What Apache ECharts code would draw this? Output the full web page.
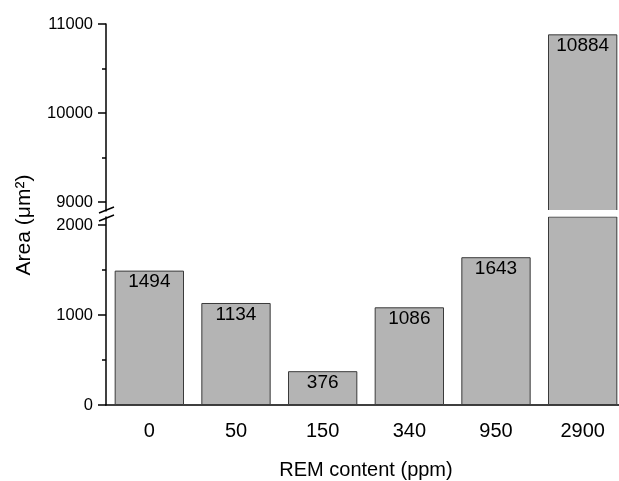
<!DOCTYPE html>
<html>
<head>
<meta charset="utf-8">
<script src="https://cdn.jsdelivr.net/npm/echarts@6/dist/echarts.min.js"></script>
<style>
  html, body { margin: 0; padding: 0; background: #fff; }
  #chart { width: 619px; height: 481px; }
</style>
</head>
<body>
<div id="chart"></div>
<script>
// REM content levels and measured areas
const categories = ['0', '50', '150', '340', '950', '2900'];
const areas = [1494, 1134, 376, 1086, 1643, 10884];

// Broken y axis: lower and upper segments
const lowerRange = [0, 2090];
const upperRange = [8900, 11000];
const lowerTicks = [0, 1000, 2000];
const lowerMinorTicks = [500, 1500];
const upperTicks = [9000, 10000, 11000];
const upperMinorTicks = [9500, 10500];

const FONT = '"Liberation Sans", Arial, Helvetica, sans-serif';
const AXIS_LEFT = 106;
const PLOT_W = 520;
const UPPER_TOP = 24, UPPER_H = 187;
const LOWER_TOP = 217, LOWER_BOTTOM = 76;

const chart = echarts.init(document.getElementById('chart'));

function yAxisPair(gridIndex, range, ticks, minorTicks) {
  return [
    {
      gridIndex, type: 'value', position: 'left', min: range[0], max: range[1],
      axisLine: { show: true, lineStyle: { color: '#000', width: 1.5 } },
      axisTick: { show: true, customValues: ticks, length: 8, lineStyle: { color: '#000', width: 1.5 } },
      axisLabel: {
        customValues: ticks, color: '#000', fontSize: 16.5, fontFamily: FONT, margin: 13,
        formatter: v => String(v)
      },
      splitLine: { show: false }
    },
    {
      gridIndex, type: 'value', position: 'left', offset: 0, min: range[0], max: range[1],
      axisLine: { show: false },
      axisTick: { show: true, customValues: minorTicks, length: 4, lineStyle: { color: '#000', width: 1.5 } },
      axisLabel: { show: false },
      splitLine: { show: false }
    }
  ];
}

const barStyle = { color: '#b4b4b4', borderColor: '#3a3a3a', borderWidth: 1 };
const labelBase = {
  show: true, position: 'insideTop', distance: 2,
  color: '#000', fontSize: 19, fontFamily: FONT
};

chart.setOption({
  animation: false,
  backgroundColor: '#fff',
  grid: [
    { left: AXIS_LEFT, width: PLOT_W, top: UPPER_TOP, height: UPPER_H, outerBoundsMode: 'none' },
    { left: AXIS_LEFT, width: PLOT_W, top: LOWER_TOP, bottom: LOWER_BOTTOM, outerBoundsMode: 'none' }
  ],
  xAxis: [
    { gridIndex: 0, type: 'category', data: categories, show: false },
    {
      gridIndex: 1, type: 'category', data: categories,
      axisLine: { lineStyle: { color: '#000', width: 1.5 } },
      axisTick: { alignWithLabel: true, length: 8, lineStyle: { color: '#000', width: 1.5 } },
      axisLabel: { color: '#000', fontSize: 20, fontFamily: FONT, margin: 16 },
      name: 'REM content (ppm)', nameLocation: 'middle', nameGap: 55,
      nameTextStyle: { color: '#000', fontSize: 20, fontFamily: FONT }
    }
  ],
  yAxis: [
    ...yAxisPair(0, upperRange, upperTicks, upperMinorTicks),
    ...yAxisPair(1, lowerRange, lowerTicks, lowerMinorTicks)
  ],
  series: [
    {
      type: 'bar', xAxisIndex: 0, yAxisIndex: 0, barCategoryGap: '20%',
      data: areas.map(v => (v > upperRange[0] ? v : '-')),
      itemStyle: barStyle,
      label: labelBase
    },
    {
      type: 'bar', xAxisIndex: 1, yAxisIndex: 2, barCategoryGap: '20%',
      data: areas.map(v => ({ value: v, label: { show: v <= lowerRange[1] } })),
      itemStyle: barStyle,
      label: labelBase
    }
  ],
  graphic: [
    {
      type: 'text', x: 24, y: 225, rotation: Math.PI / 2,
      style: {
        text: 'Area (μm²)', fill: '#000', fontSize: 21, fontFamily: FONT,
        align: 'center', verticalAlign: 'middle'
      }
    },
    // White gap separating the two segments of the tall bar
    {
      type: 'rect', z: 100,
      shape: { x: AXIS_LEFT + 1, y: UPPER_TOP + UPPER_H - 1, width: PLOT_W, height: LOWER_TOP - UPPER_TOP - UPPER_H + 0.5 },
      style: { fill: '#fff' }
    },
    // Axis break marks
    {
      type: 'line', z: 101,
      shape: { x1: AXIS_LEFT - 7, y1: UPPER_TOP + UPPER_H + 2, x2: AXIS_LEFT + 8, y2: UPPER_TOP + UPPER_H - 4 },
      style: { stroke: '#000', lineWidth: 1.5 }
    },
    {
      type: 'line', z: 101,
      shape: { x1: AXIS_LEFT - 7, y1: LOWER_TOP + 4, x2: AXIS_LEFT + 8, y2: LOWER_TOP - 2 },
      style: { stroke: '#000', lineWidth: 1.5 }
    }
  ]
});
</script>
</body>
</html>
